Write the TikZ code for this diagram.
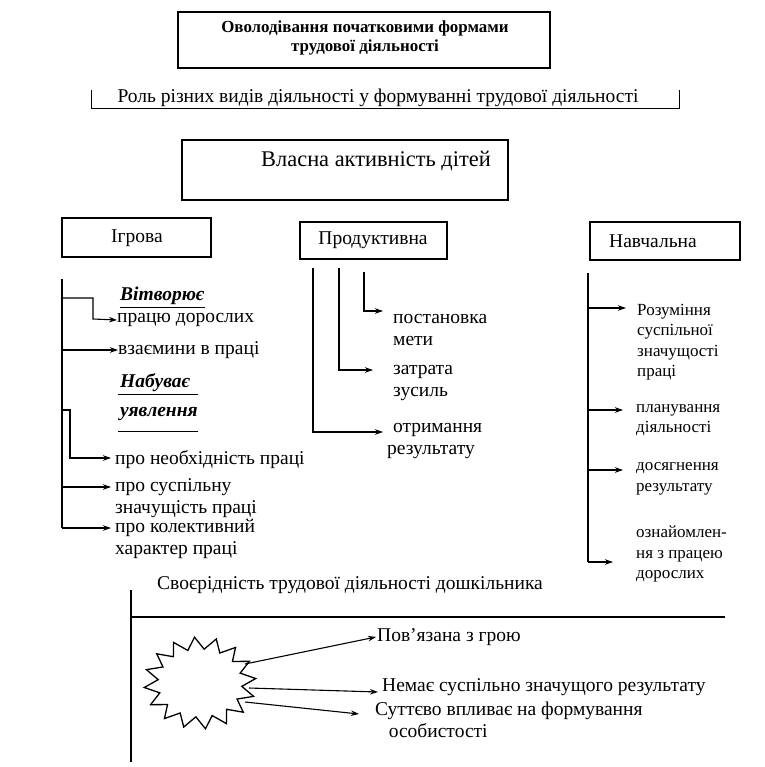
\documentclass[tikz,border=0pt]{standalone}
\usepackage{fontspec}
\setmainfont{Liberation Serif}
\usetikzlibrary{arrows.meta}
\begin{document}
\begin{tikzpicture}[x=1pt,y=-1pt,
  lbl/.style={inner sep=0pt,anchor=west,align=left,font=\fontsize{19.5}{22}\selectfont},
  sml/.style={inner sep=0pt,anchor=west,align=left,font=\fontsize{17}{20.5}\selectfont},
  bi/.style={inner sep=0pt,anchor=west,font=\bfseries\itshape\fontsize{19.5}{22}\selectfont},
  bx/.style={draw,line width=1.1pt},
  ln/.style={line width=1.1pt},
  arr/.style={line width=1.1pt,-{Stealth[length=8pt,width=5.5pt]}},
  thk/.style={line width=2.2pt}]
\useasboundingbox (0,0) rectangle (764,767);
% top box
\draw[bx] (178,12) rectangle (550,68);
\node[inner sep=0pt,align=center,font=\bfseries\fontsize{16.9}{19}\selectfont] (top) at (365,38) {Оволодівання початковими формами\\трудової діяльності};
% bracket
\draw[line width=0.7pt] (91,90) -- (91,108) -- (679,108) -- (679,90);
\node[inner sep=0pt,font=\fontsize{19.5}{22}\selectfont] (role) at (378,98) {Роль різних видів діяльності у формуванні трудової діяльності};
% own activity
\draw[bx] (182,140) rectangle (508,200);
\node[inner sep=0pt,font=\fontsize{22.4}{26}\selectfont] (own) at (376,161) {Власна активність дітей};
% three boxes
\draw[bx] (62,218) rectangle (211,257);
\node[inner sep=0pt,font=\fontsize{19.5}{22}\selectfont] (igr) at (137,238) {Ігрова};
\draw[bx] (300,222) rectangle (447,259);
\node[inner sep=0pt,font=\fontsize{19.5}{22}\selectfont] (prod) at (373,240) {Продуктивна};
\draw[bx] (590,222) rectangle (740,260);
\node[inner sep=0pt,font=\fontsize{19.5}{22}\selectfont] (navch) at (653,241) {Навчальна};
% --- Igrova branch
\coordinate (i0) at (62,279);
\coordinate (i1) at (62,528);
\draw[ln] (i0) -- (i1);
\node[bi] (vit) at (120,296) {Вітворює};
\draw[line width=0.8pt] (120,307) -- (205,307);
\node[lbl] (prac) at (117,320) {працю дорослих};
\draw[arr] (62,298) -- (93,298) -- (93,319) -- (prac.west);
\node[lbl] (vz) at (118,350) {взаємини в праці};
\draw[arr] (62,350) -- (vz.west);
\node[bi] (nab) at (120,383) {Набуває};
\draw[line width=0.8pt] (118,394) -- (198,394);
\node[bi] (uyav) at (120,414) {уявлення};
\draw[line width=0.8pt] (118,431) -- (198,431);
\node[lbl] (neob) at (115,460) {про необхідність праці};
\draw[arr] (62,410) -- (70,410) -- (70,458) -- (111,458);
\node[lbl] (susp) at (115,498) {про суспільну\\значущість праці};
\draw[arr] (62,487) -- (111,487);
\node[lbl] (kol) at (115,539) {про колективний\\характер праці};
\draw[arr] (i1) -- (111,528);
% --- Produktyvna branch
\node[lbl] (post) at (393,330) {постановка\\мети};
\node[lbl] (zatr) at (393,383) {затрата\\зусиль};
\node[lbl] (otr) at (387,441) {\hspace{0.3em}отримання\\результату};
\coordinate (p1) at (313,268);
\coordinate (p2) at (339,268);
\coordinate (p3) at (364,272);
\draw[arr] (p3) -- (364,311) -- (383,311);
\draw[arr] (p2) -- (339,370) -- (373,370);
\draw[arr] (p1) -- (313,432) -- (383,432);
% --- Navchalna branch
\coordinate (n0) at (588,273);
\coordinate (n1) at (588,562);
\draw[ln] (n0) -- (n1);
\node[sml] (roz) at (637,342) {Розуміння\\суспільної\\значущості\\праці};
\node[sml] (plan) at (636,420) {планування\\діяльності};
\node[sml] (dos) at (636,479) {досягнення\\результату};
\node[sml] (ozn) at (636,554) {ознайомлен-\\ня з працею\\дорослих};
\draw[arr] (588,308) -- (626,308);
\draw[arr] (588,410) -- (623,410);
\draw[arr] (588,470) -- (623,470);
\draw[arr] (n1) -- (613,562);
% --- bottom
\node[lbl] (sv) at (157,585) {Своєрідність трудової діяльності дошкільника};
\draw[thk] (131,590) -- (131,762);
\draw[thk] (131,617) -- (725,617);
\draw[line width=1.3pt,fill=white]
  plot[samples=33,domain=0:32] ({200+(mod(\x,2)==0 ? 56 : 42)*cos(\x*11.25+5.6)},{683-(mod(\x,2)==0 ? 46 : 34)*sin(\x*11.25+5.6)}) -- cycle;
\coordinate (s1) at (245,664);
\coordinate (s2) at (249,688);
\coordinate (s3) at (245,702);
\node[lbl] (pov) at (377,637) {Пов’язана з грою};
\node[lbl] (nem) at (382,687) {Немає суспільно значущого результату};
\node[lbl] (sut) at (375,720) {Суттєво впливає на формування\\\hspace{0.7em}особистості};
\draw[arr] (s1) -- (376,637);
\draw[arr] (s2) -- (378,692);
\draw[arr] (s3) -- (359,714);
\end{tikzpicture}
\end{document}
